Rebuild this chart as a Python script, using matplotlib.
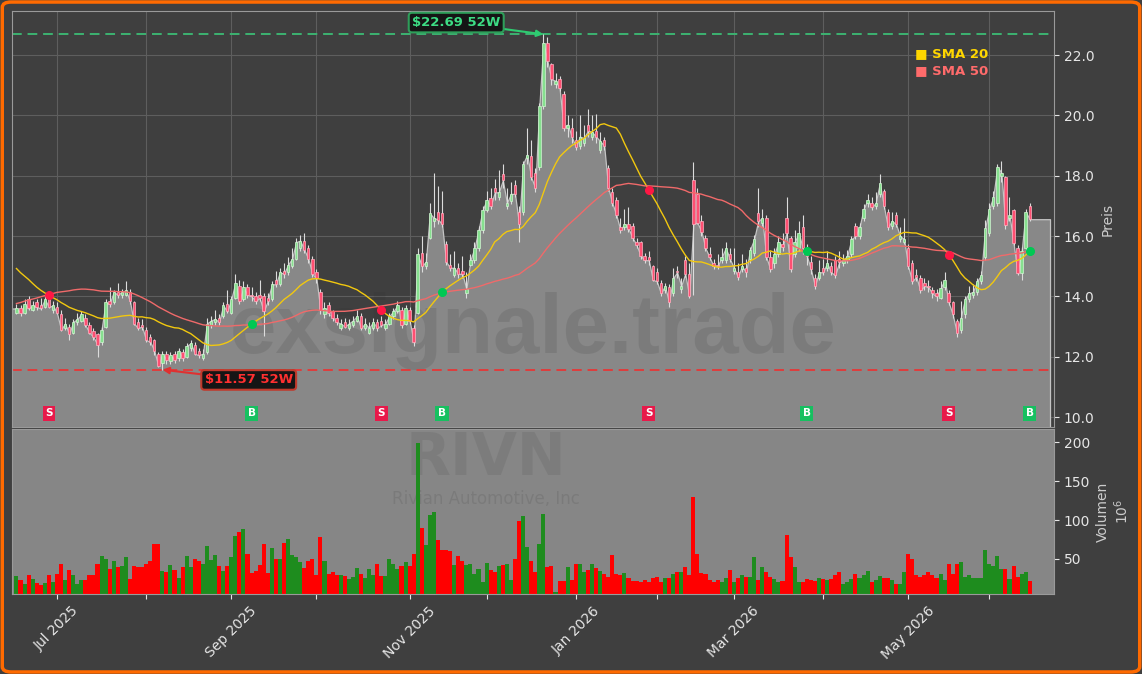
import numpy as np
import pandas as pd
import matplotlib
matplotlib.use('Agg')
import matplotlib.pyplot as plt
from matplotlib.patches import FancyBboxPatch

# trading calendar (NYSE holidays in the window)
holidays = ['2025-06-19', '2025-07-04', '2025-09-01', '2025-11-27', '2025-12-25',
            '2026-01-01', '2026-01-19', '2026-02-16', '2026-04-03', '2026-05-25']

# closes before the window, only used to warm up the moving averages
hist_closes = [11.6, 11.8, 11.5, 11.9, 12.1, 11.7, 11.6, 11.9, 12.0, 11.8, 11.7, 12.0, 12.2, 11.9, 11.8,
               12.4, 12.8, 13.1, 13.4, 13.2, 13.6, 13.9, 14.0, 13.8, 14.2, 14.5, 14.3, 14.6, 14.9, 15.3,
               15.8, 16.2, 16.0, 15.9, 16.3, 16.1, 15.7, 15.6, 15.4,
               15.1, 14.9, 14.7, 14.6, 14.4, 14.2, 14.3, 14.1, 13.9, 13.8, 13.7]

opens = [13.45, 13.60, 13.45, 13.90, 13.55, 13.80, 13.70, 13.65, 13.90, 13.55,
         13.65, 13.40, 12.95, 13.00, 12.80, 13.15, 13.20, 13.30, 13.05, 12.85,
         12.75, 12.50, 13.00, 13.85, 13.80, 14.15, 14.05, 14.05, 14.15, 13.80,
         13.15, 13.05, 12.90, 12.65, 12.55, 12.10, 11.80, 12.10, 11.85, 12.10,
         11.95, 12.15, 12.00, 12.30, 12.40, 12.20, 11.95, 12.15, 13.05, 13.15,
         13.30, 13.35, 13.75, 13.45, 13.95, 14.35, 13.90, 14.30, 14.05, 14.00,
         14.05, 14.00, 13.95, 13.90, 14.55, 14.40, 14.85, 14.80, 15.00, 15.25,
         15.60, 15.85, 15.60, 15.25, 14.80, 14.15, 13.40, 13.70, 13.50, 13.30,
         12.95, 13.15, 12.95, 13.05, 13.20, 13.35, 12.95, 12.80, 12.95, 13.15,
         13.20, 12.95, 13.10, 13.35, 13.50, 13.55, 13.10, 13.55, 12.95, 13.45,
         15.45, 15.00, 15.95, 16.50, 16.80, 16.75, 15.75, 15.05, 14.70, 14.95,
         14.85, 14.10, 15.05, 15.20, 15.60, 16.20, 16.85, 17.25, 17.60, 17.30,
         18.05, 17.00, 17.15, 17.70, 16.80, 16.80, 18.60, 18.65, 18.10, 18.30,
         20.30, 22.40, 21.70, 21.05, 21.20, 20.70, 19.60, 19.60, 19.20, 19.00,
         19.10, 19.70, 19.30, 19.50, 18.85, 19.20, 18.25, 17.45, 17.20, 16.30,
         16.30, 16.40, 16.35, 15.80, 15.80, 15.35, 15.30, 15.00, 14.80, 14.45,
         14.20, 14.30, 14.10, 14.85, 14.25, 15.20, 14.75, 17.85, 17.40, 16.50,
         15.95, 15.40, 15.10, 15.05, 15.20, 15.20, 15.40, 14.85, 14.80, 14.90,
         14.95, 15.25, 15.45, 16.75, 16.45, 16.60, 15.30, 15.10, 15.40, 15.75,
         16.60, 15.95, 15.40, 15.60, 16.30, 15.50, 15.15, 14.60, 14.60, 14.95,
         14.95, 15.00, 15.20, 15.25, 15.10, 15.20, 15.40, 16.35, 16.00, 16.60,
         17.10, 17.10, 17.00, 17.40, 17.50, 16.80, 16.35, 16.70, 15.90, 15.80,
         15.60, 15.10, 14.70, 14.60, 14.45, 14.35, 14.20, 14.10, 13.95, 14.30,
         14.10, 13.80, 13.20, 12.90, 13.40, 13.90, 14.05, 14.15, 14.50, 15.30,
         16.10, 17.00, 17.10, 18.00, 17.95, 16.60, 16.86, 15.60, 14.77, 15.60, 17.00]

highs = [13.75, 13.70, 13.90, 14.00, 13.85, 13.90, 13.95, 14.05, 14.00, 13.85,
         13.80, 13.55, 13.30, 13.10, 13.25, 13.45, 13.50, 13.40, 13.15, 12.95,
         12.80, 13.00, 13.90, 14.30, 14.20, 14.45, 14.25, 14.50, 14.25, 13.85,
         13.30, 13.25, 13.00, 12.75, 12.60, 12.15, 12.20, 12.20, 12.15, 12.20,
         12.30, 12.25, 12.45, 12.55, 12.50, 12.30, 12.25, 13.30, 13.35, 13.55,
         13.40, 13.80, 14.20, 14.00, 14.75, 14.55, 14.50, 14.40, 14.30, 14.15,
         14.55, 14.10, 14.10, 14.50, 14.85, 14.95, 15.10, 15.30, 15.60, 15.95,
         16.05, 16.10, 15.70, 15.35, 14.90, 14.25, 13.80, 13.80, 13.55, 13.40,
         13.25, 13.30, 13.25, 13.35, 13.55, 13.45, 13.30, 13.15, 13.30, 13.25,
         13.35, 13.25, 13.45, 13.60, 13.85, 13.65, 13.70, 13.65, 13.05, 15.60,
         16.00, 15.45, 17.10, 18.10, 17.65, 17.50, 15.85, 15.40, 15.50, 15.10,
         15.35, 14.80, 15.40, 15.80, 16.35, 17.00, 17.50, 17.60, 17.90, 18.20,
         18.40, 17.60, 17.80, 17.85, 17.00, 18.50, 19.60, 19.20, 18.25, 20.40,
         22.69, 22.60, 21.75, 21.40, 21.30, 20.80, 20.00, 19.90, 19.50, 20.00,
         19.70, 20.20, 20.00, 20.05, 19.45, 19.30, 18.35, 17.60, 17.30, 16.60,
         16.90, 16.95, 16.45, 15.95, 15.85, 15.45, 15.50, 15.05, 14.95, 14.55,
         14.45, 14.40, 14.95, 15.00, 14.60, 15.35, 15.10, 18.45, 17.60, 16.70,
         16.05, 15.65, 15.25, 15.40, 15.60, 15.80, 15.60, 15.60, 15.10, 15.40,
         15.25, 15.65, 16.05, 17.60, 16.90, 16.70, 15.50, 15.60, 16.00, 16.10,
         17.30, 16.00, 16.20, 16.50, 16.70, 15.75, 15.35, 14.75, 15.20, 15.25,
         15.50, 15.15, 15.35, 15.50, 15.40, 15.55, 16.00, 16.45, 16.45, 17.05,
         17.40, 17.30, 17.45, 18.05, 17.55, 16.90, 16.80, 16.80, 16.30, 16.60,
         15.75, 15.20, 14.90, 14.70, 14.60, 14.55, 14.30, 14.25, 14.50, 14.80,
         14.20, 13.85, 13.25, 13.85, 14.00, 14.35, 14.40, 14.60, 14.85, 16.55,
         17.10, 17.50, 18.40, 18.50, 18.00, 17.30, 16.90, 15.70, 15.65, 16.90, 17.10]

lows = [13.40, 13.35, 13.40, 13.55, 13.50, 13.55, 13.55, 13.60, 13.60, 13.45,
        13.40, 12.85, 12.90, 12.55, 12.75, 13.05, 13.15, 13.00, 12.75, 12.55,
        12.00, 12.40, 12.95, 13.65, 13.75, 13.95, 13.95, 14.00, 13.75, 13.05,
        12.90, 12.90, 12.50, 12.40, 12.05, 11.65, 11.57, 11.75, 11.75, 11.80,
        11.85, 11.85, 11.95, 12.20, 12.05, 11.95, 11.90, 12.10, 12.95, 13.05,
        13.05, 13.30, 13.45, 13.40, 13.90, 13.75, 13.85, 13.95, 13.85, 13.75,
        13.85, 12.70, 13.70, 13.85, 14.30, 14.35, 14.60, 14.70, 14.95, 15.20,
        15.50, 15.45, 15.10, 14.65, 14.45, 13.40, 13.30, 13.35, 13.20, 13.05,
        12.90, 12.95, 12.90, 13.00, 13.15, 12.90, 12.90, 12.75, 12.90, 12.85,
        13.00, 12.90, 13.05, 13.25, 13.45, 12.95, 13.05, 13.10, 12.35, 13.40,
        14.80, 14.90, 15.90, 16.30, 16.40, 16.30, 15.05, 14.85, 14.65, 14.60,
        14.60, 13.95, 15.00, 15.10, 15.50, 16.10, 16.80, 16.90, 17.20, 17.20,
        17.60, 16.90, 17.05, 17.30, 15.80, 16.70, 18.40, 17.85, 17.45, 18.20,
        20.20, 21.60, 21.00, 20.90, 20.80, 19.50, 19.30, 19.10, 18.85, 18.90,
        19.00, 19.30, 19.20, 19.10, 18.75, 18.85, 17.50, 17.00, 16.60, 16.10,
        16.20, 16.15, 15.85, 15.60, 15.25, 15.10, 15.05, 14.50, 14.40, 14.00,
        14.10, 13.65, 14.00, 14.60, 14.10, 14.65, 13.95, 14.05, 16.40, 16.00,
        15.50, 15.20, 14.90, 14.90, 15.10, 15.10, 15.15, 14.75, 14.55, 14.80,
        14.65, 15.10, 15.35, 16.30, 16.35, 15.20, 14.80, 14.95, 15.30, 15.50,
        15.95, 14.80, 15.30, 15.50, 15.40, 15.05, 14.75, 14.25, 14.55, 14.70,
        14.85, 14.70, 14.60, 14.95, 15.00, 15.10, 15.30, 15.90, 15.90, 16.50,
        16.95, 16.85, 16.90, 17.30, 16.90, 16.20, 16.25, 16.30, 15.80, 15.75,
        14.90, 14.40, 14.50, 14.10, 14.20, 14.15, 13.95, 13.85, 13.90, 14.20,
        13.70, 13.30, 12.65, 12.80, 13.30, 13.80, 13.95, 14.05, 14.40, 15.20,
        16.00, 16.90, 17.00, 17.80, 16.25, 16.50, 15.70, 14.70, 14.55, 15.50, 16.50]

closes = [13.60, 13.45, 13.75, 13.60, 13.70, 13.65, 13.60, 13.90, 13.65, 13.70,
          13.45, 12.90, 13.10, 12.75, 13.15, 13.25, 13.40, 13.05, 12.80, 12.65,
          12.40, 12.90, 13.80, 13.75, 14.15, 14.05, 14.15, 14.20, 13.85, 13.10,
          12.95, 13.00, 12.55, 12.50, 12.20, 11.70, 12.10, 11.90, 12.05, 11.90,
          12.20, 11.95, 12.35, 12.45, 12.10, 12.05, 12.10, 13.10, 13.20, 13.25,
          13.15, 13.70, 13.50, 13.90, 14.45, 13.85, 14.30, 14.05, 14.00, 13.85,
          13.95, 13.50, 13.85, 14.40, 14.40, 14.80, 14.75, 15.05, 15.25, 15.80,
          15.85, 15.55, 15.25, 14.75, 14.60, 13.55, 13.60, 13.45, 13.30, 13.15,
          13.10, 13.00, 13.10, 13.20, 13.35, 12.95, 13.10, 12.95, 13.15, 12.95,
          13.05, 13.10, 13.35, 13.50, 13.70, 13.05, 13.60, 13.20, 12.50, 15.40,
          15.00, 15.15, 16.75, 16.60, 16.55, 16.40, 15.15, 14.95, 14.95, 14.75,
          14.75, 14.25, 15.20, 15.60, 16.20, 16.85, 17.20, 17.00, 17.45, 17.45,
          17.85, 17.10, 17.40, 17.40, 16.40, 18.40, 18.70, 17.95, 17.60, 20.30,
          22.40, 21.80, 21.20, 21.15, 20.90, 19.60, 19.70, 19.30, 18.95, 19.30,
          19.25, 19.50, 19.45, 19.30, 19.15, 19.00, 17.60, 17.10, 16.70, 16.20,
          16.40, 16.25, 15.95, 15.70, 15.35, 15.20, 15.20, 14.55, 14.50, 14.10,
          14.35, 13.80, 14.60, 14.80, 14.35, 14.75, 14.00, 16.40, 16.45, 16.15,
          15.60, 15.30, 15.00, 15.00, 15.30, 15.60, 15.25, 14.95, 14.65, 15.00,
          14.80, 15.55, 15.90, 16.50, 16.60, 15.30, 14.90, 15.40, 15.80, 15.65,
          16.10, 14.90, 15.80, 16.10, 15.60, 15.35, 14.90, 14.35, 14.80, 14.80,
          15.10, 14.80, 14.70, 15.15, 15.20, 15.35, 15.90, 16.00, 16.30, 16.90,
          17.20, 16.95, 17.10, 17.75, 17.00, 16.30, 16.50, 16.40, 16.00, 15.90,
          15.00, 14.50, 14.65, 14.20, 14.35, 14.30, 14.10, 14.00, 14.27, 14.55,
          13.80, 13.40, 12.80, 13.30, 13.90, 14.10, 14.15, 14.50, 14.70, 16.27,
          16.90, 17.30, 18.30, 18.10, 16.36, 16.70, 15.77, 14.77, 15.50, 16.80, 16.56]

# volume in millions
volumes = [28, 23, 18, 29, 24, 19, 17, 19, 29, 20, 31, 44, 23, 36, 29, 18, 23, 23, 29, 29,
           44, 54, 50, 37, 47, 40, 41, 52, 24, 41, 40, 40, 44, 47, 69, 69, 35, 33, 42, 36,
           26, 40, 54, 40, 50, 47, 44, 67, 49, 55, 41, 34, 41, 53, 80, 85, 88, 56, 32, 34,
           42, 69, 32, 64, 50, 50, 70, 76, 55, 53, 46, 39, 47, 50, 29, 78, 47, 31, 33, 29,
           29, 28, 24, 27, 38, 31, 25, 37, 29, 44, 28, 28, 50, 44, 37, 41, 46, 41, 56, 199,
           90, 68, 106, 110, 74, 61, 62, 60, 42, 54, 47, 42, 44, 31, 37, 21, 45, 36, 33, 41,
           42, 44, 23, 50, 99, 105, 65, 47, 33, 69, 108, 40, 41, 8, 22, 22, 40, 23, 44, 44,
           33, 36, 44, 38, 35, 31, 27, 55, 31, 29, 32, 26, 22, 22, 20, 23, 21, 26, 27, 21,
           26, 26, 31, 33, 33, 40, 30, 129, 57, 32, 31, 23, 20, 23, 20, 26, 36, 21, 26, 30,
           27, 27, 53, 23, 40, 33, 27, 24, 21, 22, 81, 53, 40, 21, 21, 24, 23, 22, 25, 24,
           23, 24, 29, 33, 18, 21, 24, 31, 26, 30, 35, 21, 23, 28, 26, 26, 23, 18, 18, 33,
           56, 50, 29, 27, 29, 33, 29, 25, 31, 23, 44, 31, 44, 46, 27, 29, 25, 26, 25, 62,
           44, 41, 54, 37, 37, 24, 41, 27, 31, 33, 22]

# SMA cross signals (trading-day index, kind)
signal_idx = [8, 58, 90, 105, 156, 195, 230, 250]
signal_kind = ['S', 'B', 'S', 'B', 'S', 'B', 'S', 'B']

high_52w, high_idx = 22.69, 130
low_52w, low_idx = 11.57, 36

n = len(closes)
dates = pd.bdate_range('2025-06-16', periods=n, freq='C', holidays=holidays)
x = np.arange(n)
o = np.array(opens); h = np.array(highs); l = np.array(lows); c = np.array(closes)
up = c >= o

all_close = pd.Series(hist_closes + closes)
sma20 = all_close.rolling(20).mean().values[len(hist_closes):]
sma50 = all_close.rolling(50).mean().values[len(hist_closes):]

BG = '#3f3f3f'
fig = plt.figure(figsize=(11.42, 6.74), dpi=100, facecolor=BG)
ax = fig.add_axes([0.0105, 0.3665, 0.9125, 0.617])
axv = fig.add_axes([0.0105, 0.1187, 0.9125, 0.2448], sharex=ax)

for a in (ax, axv):
    for s in a.spines.values():
        s.set_color('#9a9a9a')
ax.set_facecolor(BG)
axv.set_facecolor('#868686')

# close area
xf = np.r_[-1.5, x, 255]
yf = np.r_[closes[0], c, closes[-1]]
ax.fill_between(xf, yf, 8, facecolor='#888888', edgecolor='#c4c4c4', lw=0.9, zorder=1)

ax.text(127.5, 12.85, 'exsignale.trade', fontsize=60, fontweight='bold', family='Liberation Sans',
        color='#2a2a2a', alpha=0.13, ha='center', va='center', zorder=1.5)

# candles
ax.vlines(x, l, h, color='#dcdcdc', lw=0.8, zorder=3)
body_col = np.where(up, '#86e08f', '#ff4f72')
edge_col = np.where(up, '#d2f5d2', '#ffb0c0')
ax.bar(x, np.maximum(np.abs(c - o), 0.04), bottom=np.minimum(o, c), width=0.6,
       color=body_col, edgecolor=edge_col, lw=0.5, zorder=4)

ax.plot(x, sma20, color='#f2c80f', lw=1.0, zorder=5)
ax.plot(x, sma50, color='#f06a6a', lw=1.0, zorder=5)

ax.axhline(high_52w, color='#3cb371', ls=(0, (5, 3)), lw=1.4, zorder=2)
ax.axhline(low_52w, color='#e03c3c', ls=(0, (5, 3)), lw=1.4, zorder=2)

ax.annotate(r'\$22.69 52W', xy=(high_idx, high_52w), xytext=(108.5, 23.08),
            ha='center', va='center', color='#3ddc84', fontsize=9.5, fontweight='bold',
            bbox=dict(boxstyle='round,pad=0.25', fc='#151515', ec='#2e9e5a', lw=1.5),
            arrowprops=dict(arrowstyle='-|>', color='#2ecc71', lw=1.5, shrinkA=0, shrinkB=0),
            zorder=8)
ax.annotate(r'\$11.57 52W', xy=(low_idx, low_52w), xytext=(57.3, 11.23),
            ha='center', va='center', color='#ff3030', fontsize=9.5, fontweight='bold',
            bbox=dict(boxstyle='round,pad=0.25', fc='#151515', ec='#c0392b', lw=1.5),
            arrowprops=dict(arrowstyle='-|>', color='#e03030', lw=1.5, shrinkA=0, shrinkB=0),
            zorder=8)

for i, k in zip(signal_idx, signal_kind):
    col = '#00c853' if k == 'B' else '#ff1744'
    ax.plot(i, sma20[i], 'o', color=col, ms=5.5, zorder=6)
    ax.text(i, 10.13, k, ha='center', va='center', color='white', fontsize=7.5, fontweight='bold',
            bbox=dict(boxstyle='square,pad=0.25', fc='#e8194a' if k == 'S' else '#16c060', ec='none'),
            zorder=7)

ax.text(0.867, 0.897, '■ SMA 20', transform=ax.transAxes, color='#ffd700', fontsize=9.5,
        fontweight='bold', va='center')
ax.text(0.867, 0.858, '■ SMA 50', transform=ax.transAxes, color='#ff6b6b', fontsize=9.5,
        fontweight='bold', va='center')

ax.set_ylim(9.67, 23.46)
ax.set_xlim(-1.1, 256)
ax.set_yticks(np.arange(10, 23, 2))
ax.yaxis.set_major_formatter(matplotlib.ticker.FormatStrFormatter('%.1f'))
ax.yaxis.tick_right()
ax.yaxis.set_label_position('right')
ax.set_ylabel('Preis', color='#cccccc', fontsize=10)
ax.tick_params(axis='y', colors='#e6e6e6', labelsize=10)
ax.tick_params(axis='x', length=0, labelbottom=False)
ax.grid(True, color='#5e5e5e', lw=0.8)
ax.set_axisbelow(True)

# month ticks
month_start = [i for i in range(1, n) if dates[i].month != dates[i - 1].month]
labels = [dates[i].strftime('%b %Y') if dates[i].month % 2 == 1 else '' for i in month_start]
ax.set_xticks(month_start)
axv.set_xticks(month_start)
axv.set_xticklabels(labels, rotation=45, ha='center')

# volume
vcol = np.where(up, '#1e8c1e', '#ff0000')
axv.bar(x, volumes, width=1.0, color=vcol, zorder=2)
axv.set_ylim(5, 217)
axv.set_yticks([50, 100, 150, 200])
axv.yaxis.tick_right()
axv.yaxis.set_label_position('right')
axv.set_ylabel('Volumen\n$10^{6}$', color='#cccccc', fontsize=10)
axv.tick_params(axis='y', colors='#e6e6e6', labelsize=10)
axv.tick_params(axis='x', colors='#e6e6e6', labelsize=10)
axv.text(0.455, 0.82, 'RIVN', transform=axv.transAxes, fontsize=42, fontweight='bold',
         color='#2a2a2a', alpha=0.1, ha='center', va='center', zorder=1)
axv.text(0.455, 0.575, 'Rivian Automotive, Inc', transform=axv.transAxes, fontsize=12,
         color='#2a2a2a', alpha=0.12, ha='center', va='center', zorder=1)

fig.patches.append(FancyBboxPatch((0.002, 0.003), 0.996, 0.994, boxstyle='round,pad=0,rounding_size=0.008',
                                  transform=fig.transFigure, fill=False, edgecolor='#ff6a00', lw=2.5))

fig.savefig('out.png', dpi=100, facecolor=BG)
